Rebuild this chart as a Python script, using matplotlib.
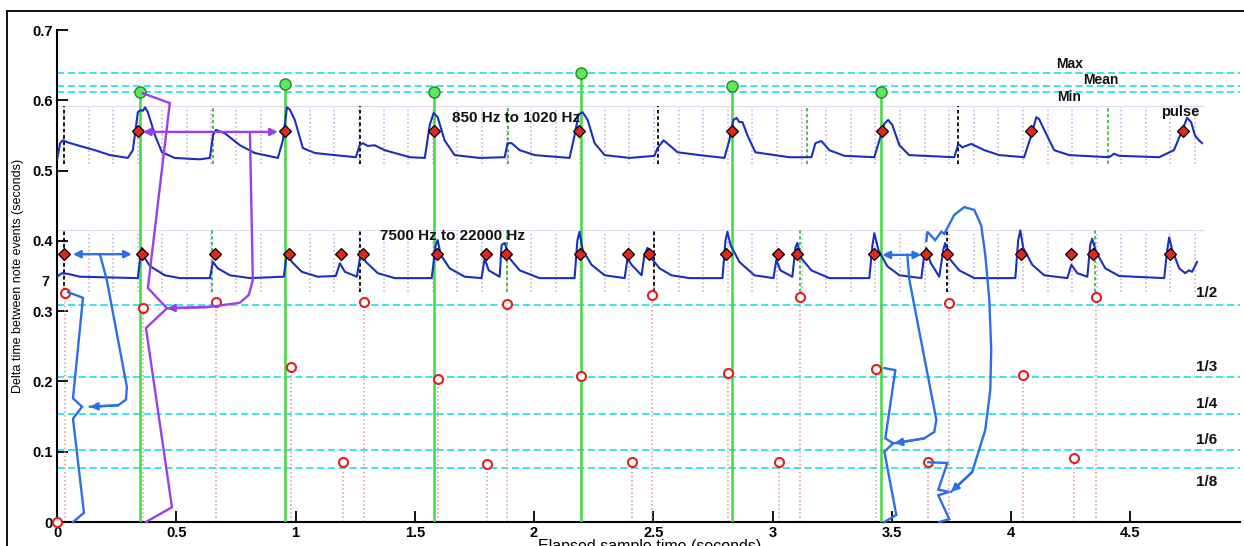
import numpy as np
import matplotlib.pyplot as plt

plt.rcParams['font.family'] = ['Liberation Sans', 'DejaVu Sans']

# reference tempo levels (seconds)
tempo_levels = [0.639, 0.620, 0.612]
tempo_labels = ['Max', 'Mean', 'Min']
tempo_label_t = [4.189, 4.302, 4.194]
tempo_label_v = [0.651, 0.629, 0.605]

# metrical ratio levels
ratio_levels = [0.309, 0.206, 0.154, 0.102, 0.077]
ratio_labels = ['1/2', '1/3', '1/4', '1/6', '1/8']
ratio_label_v = [0.326, 0.220, 0.168, 0.117, 0.057]

# pulse estimates (green)
pulse_t = [0.348, 0.955, 1.579, 2.195, 2.832, 3.456]
pulse_v = [0.612, 0.623, 0.612, 0.639, 0.620, 0.612]

# onsets detected in each band
low_onsets = [0.339, 0.955, 1.579, 2.187, 2.832, 3.460, 4.085, 4.721]
high_onsets = [0.029, 0.356, 0.662, 0.972, 1.190, 1.282, 1.592, 1.797, 1.881,
               2.191, 2.396, 2.484, 2.807, 3.021, 3.104, 3.427, 3.645, 3.733,
               4.043, 4.252, 4.344, 4.667]
low_onset_level = 0.556
high_onset_level = 0.381

# beat markers inside the strips
low_black = [0.029, 1.269, 2.518, 3.779]
high_black = [0.029, 1.269, 2.501, 3.733]
low_green = [0.654, 1.889, 3.146, 4.407]
high_green = [0.649, 1.885, 3.117, 4.353]

# delta time between note events
delta_t = [0.0, 0.034, 0.360, 0.666, 0.980, 1.198, 1.286, 1.596, 1.801, 1.885,
           2.199, 2.409, 2.493, 2.815, 3.029, 3.117, 3.435, 3.653, 3.741,
           4.051, 4.265, 4.357]
delta_v = [0.0, 0.326, 0.304, 0.313, 0.220, 0.085, 0.313, 0.203, 0.083, 0.310,
           0.208, 0.085, 0.323, 0.212, 0.085, 0.320, 0.218, 0.085, 0.312,
           0.209, 0.091, 0.320]

# band energy traces, 850-1020 Hz
low_trace = np.array([
    (0.000, 0.515), (0.013, 0.539), (0.025, 0.543), (0.046, 0.540), (0.096, 0.535),
    (0.159, 0.529), (0.222, 0.522), (0.297, 0.518), (0.318, 0.529), (0.339, 0.583),
    (0.352, 0.586), (0.360, 0.585), (0.369, 0.590), (0.381, 0.583), (0.411, 0.550),
    (0.440, 0.526), (0.494, 0.518), (0.599, 0.516), (0.641, 0.518), (0.654, 0.550),
    (0.666, 0.558), (0.704, 0.553), (0.767, 0.536), (0.829, 0.525), (0.926, 0.518),
    (0.947, 0.543), (0.964, 0.590), (0.976, 0.587), (0.997, 0.572), (1.031, 0.532),
    (1.081, 0.525), (1.165, 0.522), (1.253, 0.519), (1.269, 0.536), (1.282, 0.539),
    (1.303, 0.535), (1.332, 0.536), (1.374, 0.529), (1.479, 0.519), (1.542, 0.518),
    (1.563, 0.565), (1.579, 0.582), (1.596, 0.576), (1.625, 0.543), (1.667, 0.522),
    (1.772, 0.518), (1.877, 0.519), (1.889, 0.539), (1.906, 0.539), (1.940, 0.529),
    (2.003, 0.522), (2.149, 0.518), (2.170, 0.550), (2.187, 0.580), (2.204, 0.583),
    (2.225, 0.572), (2.254, 0.539), (2.296, 0.522), (2.400, 0.518), (2.505, 0.521),
    (2.518, 0.532), (2.543, 0.543), (2.568, 0.536), (2.602, 0.526), (2.694, 0.522),
    (2.798, 0.518), (2.819, 0.543), (2.836, 0.572), (2.849, 0.575), (2.861, 0.569),
    (2.874, 0.569), (2.895, 0.550), (2.928, 0.526), (3.071, 0.519), (3.163, 0.519),
    (3.180, 0.539), (3.205, 0.542), (3.238, 0.529), (3.301, 0.521), (3.427, 0.519),
    (3.448, 0.543), (3.469, 0.567), (3.485, 0.572), (3.502, 0.565), (3.532, 0.536),
    (3.573, 0.522), (3.762, 0.519), (3.779, 0.538), (3.796, 0.533), (3.833, 0.538),
    (3.888, 0.529), (3.951, 0.522), (4.055, 0.519), (4.085, 0.550), (4.106, 0.576),
    (4.118, 0.573), (4.139, 0.558), (4.181, 0.529), (4.244, 0.522), (4.411, 0.519),
    (4.432, 0.524), (4.453, 0.521), (4.621, 0.519), (4.683, 0.529), (4.721, 0.560),
    (4.738, 0.575), (4.755, 0.569), (4.771, 0.550), (4.788, 0.543), (4.801, 0.539)])

# band energy traces, 7500-22000 Hz
high_trace = np.array([
    (0.000, 0.349), (0.021, 0.354), (0.046, 0.353), (0.096, 0.349), (0.339, 0.347),
    (0.348, 0.373), (0.356, 0.390), (0.369, 0.375), (0.390, 0.364), (0.452, 0.351),
    (0.515, 0.347), (0.641, 0.347), (0.654, 0.370), (0.674, 0.361), (0.725, 0.351),
    (0.809, 0.347), (0.951, 0.349), (0.964, 0.384), (0.985, 0.370), (1.026, 0.356),
    (1.093, 0.349), (1.169, 0.350), (1.186, 0.368), (1.207, 0.356), (1.257, 0.349),
    (1.274, 0.383), (1.295, 0.370), (1.345, 0.354), (1.416, 0.347), (1.571, 0.347),
    (1.588, 0.394), (1.596, 0.401), (1.609, 0.380), (1.646, 0.361), (1.709, 0.349),
    (1.780, 0.347), (1.793, 0.375), (1.810, 0.358), (1.856, 0.349), (1.864, 0.394),
    (1.877, 0.397), (1.898, 0.375), (1.940, 0.358), (2.023, 0.347), (2.170, 0.347),
    (2.182, 0.401), (2.191, 0.413), (2.204, 0.387), (2.241, 0.366), (2.296, 0.351),
    (2.380, 0.347), (2.392, 0.375), (2.409, 0.366), (2.451, 0.351), (2.463, 0.380),
    (2.476, 0.390), (2.493, 0.375), (2.526, 0.361), (2.576, 0.351), (2.652, 0.347),
    (2.790, 0.347), (2.803, 0.401), (2.811, 0.413), (2.824, 0.394), (2.861, 0.370),
    (2.924, 0.351), (3.004, 0.347), (3.016, 0.373), (3.033, 0.358), (3.083, 0.349),
    (3.096, 0.390), (3.104, 0.397), (3.121, 0.375), (3.163, 0.358), (3.238, 0.347),
    (3.406, 0.347), (3.419, 0.394), (3.427, 0.411), (3.444, 0.387), (3.481, 0.364),
    (3.532, 0.351), (3.624, 0.347), (3.636, 0.380), (3.645, 0.390), (3.661, 0.370),
    (3.699, 0.349), (3.716, 0.387), (3.724, 0.397), (3.741, 0.375), (3.783, 0.358),
    (3.846, 0.347), (4.018, 0.347), (4.030, 0.401), (4.039, 0.415), (4.051, 0.390),
    (4.089, 0.366), (4.139, 0.351), (4.236, 0.347), (4.253, 0.366), (4.278, 0.354),
    (4.320, 0.349), (4.332, 0.394), (4.340, 0.403), (4.357, 0.384), (4.395, 0.361),
    (4.453, 0.350), (4.642, 0.347), (4.655, 0.387), (4.663, 0.405), (4.676, 0.387),
    (4.705, 0.361), (4.730, 0.354), (4.746, 0.358), (4.759, 0.356), (4.780, 0.370)])

low_strip = (0.509, 0.592)
high_strip = (0.327, 0.415)

# hand-drawn annotation paths
purple_zigzag = [(0.360, 0.610), (0.473, 0.596), (0.381, 0.333), (0.461, 0.304),
                 (0.373, 0.276), (0.482, 0.021), (0.373, 0.0)]
purple_span = [(0.360, 0.555), (0.926, 0.555)]
purple_hook = [(0.809, 0.553), (0.821, 0.344), (0.804, 0.323), (0.767, 0.312),
               (0.641, 0.306), (0.461, 0.304)]
blue_span_a = [(0.067, 0.381), (0.314, 0.381)]
blue_hook_a = [(0.180, 0.381), (0.209, 0.344), (0.293, 0.192), (0.289, 0.174),
               (0.256, 0.166), (0.138, 0.164)]
blue_zigzag_a = [(0.046, 0.327), (0.109, 0.319), (0.067, 0.176), (0.105, 0.164),
                 (0.067, 0.147), (0.113, 0.013), (0.067, 0.0)]
blue_span_b = [(3.460, 0.380), (3.624, 0.380)]
blue_hook_b = [(3.565, 0.380), (3.574, 0.344), (3.687, 0.145), (3.678, 0.128),
               (3.636, 0.119), (3.511, 0.112)]
blue_zigzag_b = [(3.469, 0.219), (3.515, 0.216), (3.473, 0.119), (3.506, 0.112),
                 (3.469, 0.100), (3.519, 0.010), (3.469, 0.0)]
blue_zigzag_c = [(3.653, 0.085), (3.733, 0.084), (3.695, 0.046), (3.741, 0.043),
                 (3.695, 0.038), (3.741, 0.004), (3.699, 0.0)]
blue_arc = [(3.645, 0.400), (3.649, 0.413), (3.682, 0.401), (3.708, 0.413),
            (3.720, 0.410), (3.762, 0.437), (3.804, 0.448), (3.846, 0.444),
            (3.875, 0.422), (3.892, 0.380), (3.909, 0.316), (3.917, 0.245),
            (3.913, 0.188), (3.892, 0.131), (3.837, 0.071), (3.749, 0.043)]

CYAN = '#2fe0e6'
GREEN = '#3ddc3d'
PURPLE = '#9b3fe8'
BLUE = '#2b6fe8'
TRACE = '#1a2fbf'
GRID = '#c9a6dc'

fig = plt.figure(figsize=(12.44, 5.46), dpi=100)
ax = fig.add_axes([57 / 1244, 24 / 546, 1183 / 1244, 492 / 546])

for lev in tempo_levels + ratio_levels:
    ax.axhline(lev, color=CYAN, lw=1.3, ls=(0, (4, 2)), zorder=1)

# beat grid in the two strips
grid_t = np.arange(0.029, 4.82, 0.1031)
for lo, hi in (low_strip, high_strip):
    ax.vlines(grid_t, lo, hi, colors=GRID, lw=1.1, linestyles=':', zorder=2)
    ax.hlines(hi, 0, 4.81, colors='#e4d8f0', lw=0.8, zorder=2)
ax.vlines(low_black, *low_strip, colors='k', lw=1.3, linestyles=(0, (2, 1.5)), zorder=3)
ax.vlines(high_black, *high_strip, colors='k', lw=1.3, linestyles=(0, (2, 1.5)), zorder=3)
ax.vlines(low_green, *low_strip, colors='#2bb52b', lw=1.2, linestyles=(0, (2, 1.5)), zorder=3)
ax.vlines(high_green, *high_strip, colors='#2bb52b', lw=1.2, linestyles=(0, (2, 1.5)), zorder=3)

# delta stems
ax.vlines(delta_t[1:], 0, delta_v[1:], colors='#d49a9a', lw=1.1,
          linestyles=':', zorder=2)

# pulse lines
ax.vlines(pulse_t, 0, pulse_v, colors=GREEN, lw=1.8, zorder=4)

ax.plot(low_trace[:, 0], low_trace[:, 1], color=TRACE, lw=1.5, zorder=5)
ax.plot(high_trace[:, 0], high_trace[:, 1], color=TRACE, lw=1.5, zorder=5)

ax.plot(pulse_t, pulse_v, 'o', ms=8, mfc='#5ee65e', mec='#1f8a1f', mew=1.0, zorder=7)
ax.plot(low_onsets, [low_onset_level] * len(low_onsets), 'D', ms=6.5,
        mfc='#e0281e', mec='k', mew=0.9, zorder=7)
ax.plot(high_onsets, [high_onset_level] * len(high_onsets), 'D', ms=6.5,
        mfc='#e0281e', mec='k', mew=0.9, zorder=7)
ax.plot(delta_t, delta_v, 'o', ms=6.5, mfc='white', mec='#e02020', mew=1.5,
        zorder=7, clip_on=False)


def draw_path(pts, color, head=True):
    pts = np.array(pts)
    ax.plot(pts[:, 0], pts[:, 1], color=color, lw=1.7, zorder=8,
            solid_joinstyle='miter', clip_on=False)
    if head:
        ax.annotate('', xy=pts[-1], xytext=pts[-2],
                    arrowprops=dict(arrowstyle='-|>', color=color, lw=1.7,
                                    mutation_scale=11, shrinkA=0, shrinkB=0),
                    zorder=9)


def draw_span(pts, color):
    ax.annotate('', xy=pts[1], xytext=pts[0],
                arrowprops=dict(arrowstyle='<|-|>', color=color, lw=1.7,
                                mutation_scale=11, shrinkA=0, shrinkB=0),
                zorder=9)


draw_path(purple_zigzag, PURPLE, head=False)
draw_span(purple_span, PURPLE)
draw_path(purple_hook, PURPLE)
draw_span(blue_span_a, BLUE)
draw_path(blue_hook_a, BLUE)
draw_path(blue_zigzag_a, BLUE, head=False)
draw_span(blue_span_b, BLUE)
draw_path(blue_hook_b, BLUE)
draw_path(blue_zigzag_b, BLUE, head=False)
draw_path(blue_zigzag_c, BLUE, head=False)
draw_path(blue_arc, BLUE)

bold = dict(fontweight='bold', color='#111111')
ax.text(1.655, 0.575, '850 Hz to 1020 Hz', fontsize=11, va='center', zorder=10, **bold)
ax.text(1.353, 0.407, '7500 Hz to 22000 Hz', fontsize=11, va='center', zorder=10, **bold)
ax.text(4.629, 0.583, 'pulse', fontsize=10.5, va='center', **bold)
for lab, t, v in zip(tempo_labels, tempo_label_t, tempo_label_v):
    ax.text(t, v, lab, fontsize=10, va='center', **bold)
for lab, v in zip(ratio_labels, ratio_label_v):
    ax.text(4.775, v, lab, fontsize=11, va='center', **bold)
ax.text(-0.05, 0.341, '7', fontsize=10.5, ha='center', va='center', **bold)

ax.set_xlim(0, 4.96)
ax.set_ylim(0, 0.7)
ax.set_xticks([0, 0.5, 1, 1.5, 2, 2.5, 3, 3.5, 4, 4.5])
ax.set_xticklabels(['0', '0.5', '1', '1.5', '2', '2.5', '3', '3.5', '4', '4.5'])
ax.set_yticks([0, 0.1, 0.2, 0.3, 0.4, 0.5, 0.6, 0.7])
ax.set_yticklabels(['0', '0.1', '0.2', '0.3', '0.4', '0.5', '0.6', '0.7'])
for lab in ax.get_xticklabels() + ax.get_yticklabels():
    lab.set_fontweight('bold')
    lab.set_fontsize(10.5)
ax.tick_params(direction='in', length=8, width=1.3, pad=3)
ax.spines['top'].set_visible(False)
ax.spines['right'].set_visible(False)
ax.spines['left'].set_linewidth(1.5)
ax.spines['bottom'].set_linewidth(1.5)

fig.text(650 / 1244, 1 - 539 / 546, 'Elapsed sample time (seconds)',
         ha='center', va='top', fontsize=11.5)
fig.text(18 / 1244, 1 - 276 / 546, 'Delta time between note events (seconds)',
         ha='center', va='center', rotation=90, fontsize=9)

# screenshot frame
fig.add_artist(plt.Line2D([7 / 1244, 7 / 1244], [0, 1 - 11 / 546],
                          transform=fig.transFigure, color='k', lw=1.3))
fig.add_artist(plt.Line2D([7 / 1244, 1], [1 - 11 / 546, 1 - 11 / 546],
                          transform=fig.transFigure, color='k', lw=1.3))

fig.savefig('out.png', dpi=100)
